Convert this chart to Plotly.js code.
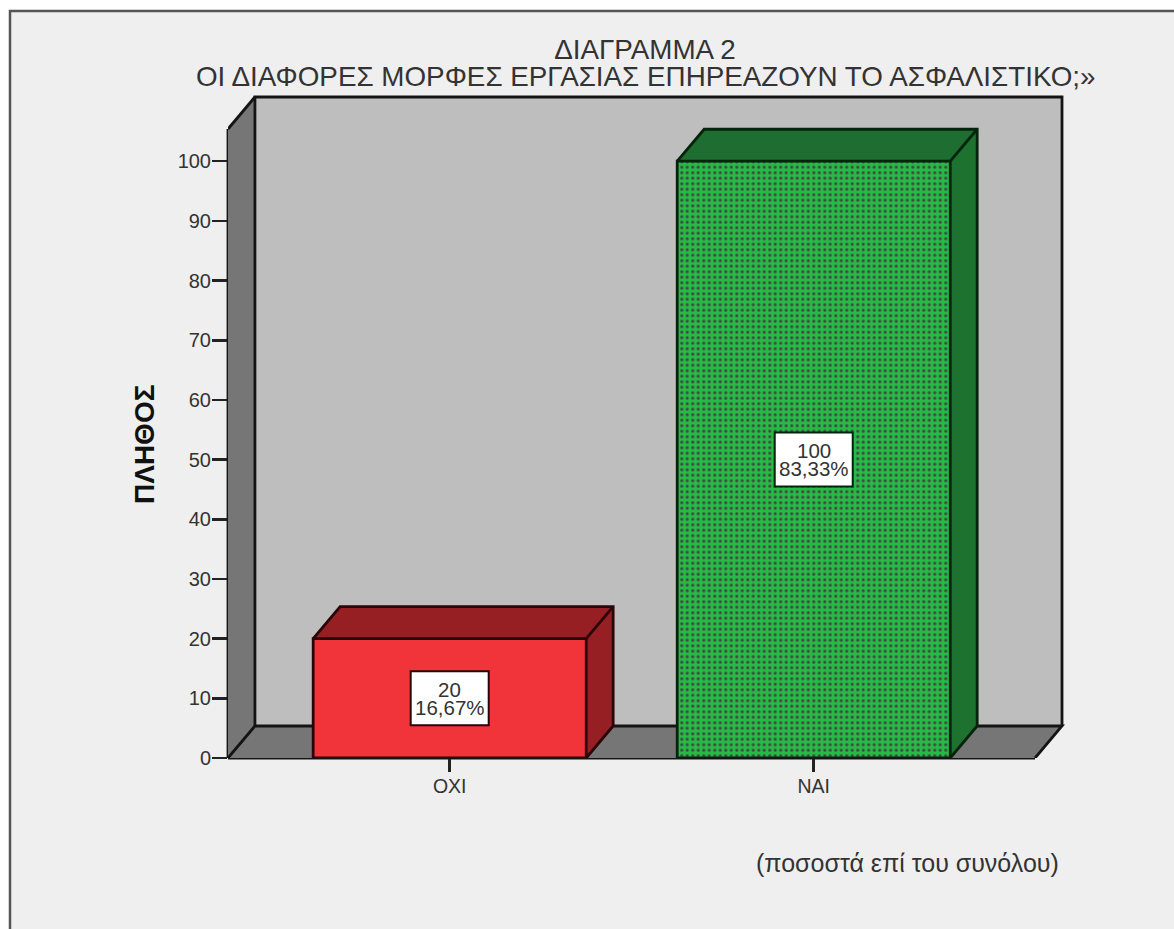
<!DOCTYPE html>
<html>
<head>
<meta charset="utf-8">
<script src="https://cdn.plot.ly/plotly-3.0.1.min.js"></script>
<style>html,body{margin:0;padding:0;background:#fff}</style>
</head>
<body>
<div id="chart" style="width:1174px;height:929px"></div>
<script>
// Survey answers: count and share of the total
const categories = ['ΟΧΙ', 'ΝΑΙ'];
const counts = [20, 100];
const shares = ['16,67%', '83,33%'];
const yTicks = [0, 10, 20, 30, 40, 50, 60, 70, 80, 90, 100];

const faceColors = ['#f1333a', '#26bb45'];
const topColors = ['#961f24', '#1d6e30'];
const sideColors = ['#961f24', '#1d7230'];
const edgeColors = ['#2a0608', '#06240c'];
const wallEdge = '#141414';

// Pseudo-3D box depth, in axis units
const depthX = 0.074;
const depthY = 5.36;
const wallTop = 105.4;
const frontLeft = -0.609;
const frontRight = 1.608;
const barHalf = 0.375;
const lineW = 2.8;

const closed = pts => 'M' + pts.map(p => p[0] + ',' + p[1]).join('L') + 'Z';
const open = pts => 'M' + pts.map(p => p[0] + ',' + p[1]).join('L');
const fillShape = (pts, fill) => ({
  type: 'path', xref: 'x', yref: 'y', layer: 'below', path: closed(pts),
  fillcolor: fill, line: {width: 0}
});
const strokeShape = (pts, color) => ({
  type: 'path', xref: 'x', yref: 'y', layer: 'below', path: open(pts),
  fillcolor: 'rgba(0,0,0,0)', line: {color: color, width: lineW}
});

const shapes = [];

// Plot area in pixels; a small margin around the box keeps its outer edges whole
const L = 228, R = 1066, T = 93, B = 758;
const W = R - L, H = B - T;

// Chart frame, open to the right and below
shapes.push({
  type: 'rect', xref: 'paper', yref: 'paper', layer: 'below',
  x0: (10 - L) / W, x1: (1200 - L) / W,
  y0: 1 - (950 - T) / H, y1: 1 - (11 - T) / H,
  fillcolor: '#efefef', line: {color: '#555', width: 2.5}
});

// Back wall, side wall and floor of the box
const backL = frontLeft + depthX, backR = frontRight + depthX, backTop = wallTop + depthY;
shapes.push(fillShape([[backL, depthY], [backR, depthY], [backR, backTop], [backL, backTop]], '#bebebe'));
shapes.push(fillShape([[frontLeft, 0], [backL, depthY], [backL, backTop], [frontLeft, wallTop]], '#767676'));
shapes.push(fillShape([[frontLeft, 0], [backL, depthY], [backR, depthY], [frontRight, 0]], '#767676'));
shapes.push(strokeShape([[backL, depthY], [backL, backTop], [backR, backTop], [backR, depthY]], wallEdge));
shapes.push(strokeShape([[frontLeft, wallTop], [backL, backTop]], wallEdge));
shapes.push(strokeShape([[frontLeft, 0], [backL, depthY], [backR, depthY], [frontRight, 0]], wallEdge));

// Front edges of the box sit on the axis lines
shapes.push({
  type: 'line', xref: 'paper', yref: 'y', layer: 'below',
  x0: 0, x1: 0, y0: 0, y1: wallTop, line: {color: wallEdge, width: lineW}
});
shapes.push({
  type: 'line', xref: 'x', yref: 'paper', layer: 'below',
  x0: frontLeft, x1: frontRight, y0: 0, y1: 0, line: {color: wallEdge, width: lineW}
});

// Top and right faces of each bar
counts.forEach((v, i) => {
  const x0 = i - barHalf, x1 = i + barHalf;
  shapes.push(fillShape([[x0, v], [x0 + depthX, v + depthY], [x1 + depthX, v + depthY], [x1, v]], topColors[i]));
  shapes.push(fillShape([[x1, 0], [x1 + depthX, depthY], [x1 + depthX, v + depthY], [x1, v]], sideColors[i]));
  shapes.push(strokeShape([[x0, v], [x0 + depthX, v + depthY], [x1 + depthX, v + depthY], [x1 + depthX, depthY], [x1, 0]], edgeColors[i]));
  shapes.push(strokeShape([[x1, v], [x1 + depthX, v + depthY]], edgeColors[i]));
  // White box behind the value labels
  shapes.push({
    type: 'rect', layer: 'above', xref: 'x', yref: 'y',
    xsizemode: 'pixel', ysizemode: 'pixel',
    xanchor: i, yanchor: v / 2,
    x0: -39, x1: 39, y0: -27, y1: 27,
    fillcolor: '#ffffff', line: {color: edgeColors[i], width: 2}
  });
});

const textColor = '#333333';
const font = 'Liberation Sans, Arial, sans-serif';
const paperX = px => (px - L) / W;
const paperY = py => 1 - (py - T) / H;
const pixelText = (px, py, text, size, color, angle) => ({
  xref: 'paper', yref: 'paper', x: paperX(px), y: paperY(py),
  xanchor: 'center', yanchor: 'middle', text: text, showarrow: false, textangle: angle || 0,
  font: {family: font, size: size, color: color || textColor}
});

const annotations = [
  pixelText(645, 77, 'ΟΙ ΔΙΑΦΟΡΕΣ ΜΟΡΦΕΣ ΕΡΓΑΣΙΑΣ ΕΠΗΡΕΑΖΟΥΝ ΤΟ ΑΣΦΑΛΙΣΤΙΚΟ;»', 27.8),
  pixelText(907, 863, '(ποσοστά επί του συνόλου)', 25),
  pixelText(145, 445, '<b>ΠΛΗΘΟΣ</b>', 28, '#111111', -90)
];
counts.forEach((v, i) => {
  annotations.push({x: i, y: v / 2, xref: 'x', yref: 'y', text: String(v), showarrow: false,
    yshift: 9, font: {family: font, size: 20.5, color: textColor}});
  annotations.push({x: i, y: v / 2, xref: 'x', yref: 'y', text: shares[i], showarrow: false,
    yshift: -9, font: {family: font, size: 20.5, color: textColor}});
});

const bar = {
  type: 'bar',
  x: categories,
  y: counts,
  width: 0.75,
  cliponaxis: false,
  marker: {
    color: faceColors,
    line: {color: edgeColors, width: lineW},
    pattern: {
      shape: ['', '.'], fgcolor: '#108032',
      fillmode: 'overlay', fgopacity: 1, size: 5.5, solidity: 0.26
    }
  },
  hoverinfo: 'skip'
};

const layout = {
  width: 1174, height: 929, autosize: false,
  margin: {l: L, r: 1174 - R, t: T, b: 929 - B, pad: 0},
  paper_bgcolor: '#ffffff', plot_bgcolor: 'rgba(0,0,0,0)',
  showlegend: false,
  title: {
    text: 'ΔΙΑΓΡΑΜΜΑ 2',
    font: {family: font, size: 27.8, color: textColor},
    x: 645 / 1174, xanchor: 'center', xref: 'container',
    y: 1 - 49 / 929, yanchor: 'middle'
  },
  xaxis: {
    type: 'category', categoryorder: 'array', categoryarray: categories,
    range: [frontLeft, backR + 4 / 364.5], domain: [0, 1],
    showgrid: false, zeroline: false, showline: false,
    ticks: 'outside', ticklen: 13, tickwidth: 2.5, tickcolor: '#222',
    ticklabelstandoff: -2,
    tickfont: {family: font, size: 19.5, color: textColor}
  },
  yaxis: {
    range: [0, backTop + 4 / 5.97], domain: [0, 1],
    tickmode: 'array', tickvals: yTicks,
    showgrid: false, zeroline: false, showline: false,
    ticks: 'outside', ticklen: 15, tickwidth: 2.5, tickcolor: '#222',
    ticklabelstandoff: -3,
    tickfont: {family: font, size: 20, color: textColor}
  },
  shapes: shapes,
  annotations: annotations
};

Plotly.newPlot('chart', [bar], layout, {displayModeBar: false, staticPlot: true});
</script>
</body>
</html>
